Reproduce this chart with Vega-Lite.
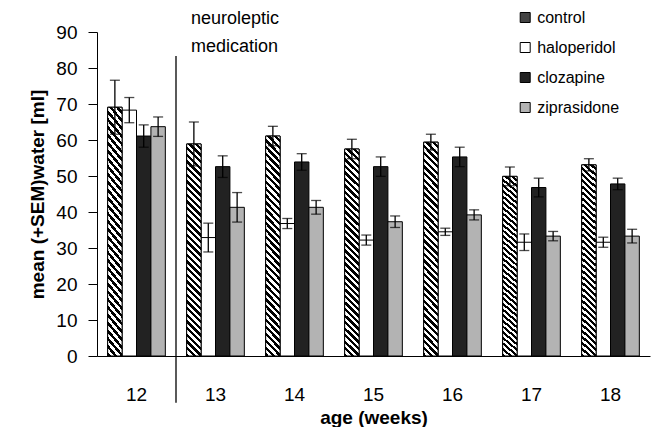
{
  "$schema": "https://vega.github.io/schema/vega-lite/v6.json",
  "width": 553,
  "height": 324,
  "autosize": {"type": "none"},
  "padding": {"left": 97, "top": 32, "right": 6, "bottom": 71},
  "background": "white",
  "config": {
    "view": {"stroke": null},
    "font": "Liberation Sans",
    "axis": {"domainColor": "#000", "domainWidth": 1, "tickColor": "#000", "labelColor": "#000", "titleColor": "#000", "grid": false, "labelFont": "Liberation Sans", "titleFont": "Liberation Sans", "labelOverlap": false},
    "axisY": {"tickCount": 10, "tickSize": 9, "labelFontSize": 19, "labelPadding": 11, "titleFontSize": 19, "titleFontWeight": "bold", "titlePadding": 8},
    "legend": {"symbolStrokeWidth": 1}
  },
  "data": {
    "values": [
      {"week": 12, "group": "control", "mean": 69.1, "lo": 61.6, "hi": 76.6},
      {"week": 12, "group": "haloperidol", "mean": 68.3, "lo": 64.8, "hi": 71.8},
      {"week": 12, "group": "clozapine", "mean": 61.1, "lo": 58.0, "hi": 64.2},
      {"week": 12, "group": "ziprasidone", "mean": 63.7, "lo": 61.0, "hi": 66.4},
      {"week": 13, "group": "control", "mean": 58.9, "lo": 52.8, "hi": 65.0},
      {"week": 13, "group": "haloperidol", "mean": 32.9, "lo": 28.9, "hi": 36.9},
      {"week": 13, "group": "clozapine", "mean": 52.6, "lo": 49.6, "hi": 55.6},
      {"week": 13, "group": "ziprasidone", "mean": 41.3, "lo": 37.2, "hi": 45.4},
      {"week": 14, "group": "control", "mean": 61.1, "lo": 58.4, "hi": 63.8},
      {"week": 14, "group": "haloperidol", "mean": 36.8, "lo": 35.4, "hi": 38.2},
      {"week": 14, "group": "clozapine", "mean": 53.9, "lo": 51.6, "hi": 56.2},
      {"week": 14, "group": "ziprasidone", "mean": 41.3, "lo": 39.4, "hi": 43.2},
      {"week": 15, "group": "control", "mean": 57.5, "lo": 54.8, "hi": 60.2},
      {"week": 15, "group": "haloperidol", "mean": 32.2, "lo": 30.8, "hi": 33.6},
      {"week": 15, "group": "clozapine", "mean": 52.6, "lo": 49.9, "hi": 55.3},
      {"week": 15, "group": "ziprasidone", "mean": 37.3, "lo": 35.7, "hi": 38.9},
      {"week": 16, "group": "control", "mean": 59.4, "lo": 57.2, "hi": 61.6},
      {"week": 16, "group": "haloperidol", "mean": 34.5, "lo": 33.5, "hi": 35.5},
      {"week": 16, "group": "clozapine", "mean": 55.3, "lo": 52.6, "hi": 58.0},
      {"week": 16, "group": "ziprasidone", "mean": 39.2, "lo": 37.8, "hi": 40.6},
      {"week": 17, "group": "control", "mean": 49.9, "lo": 47.3, "hi": 52.5},
      {"week": 17, "group": "haloperidol", "mean": 31.6, "lo": 29.3, "hi": 33.9},
      {"week": 17, "group": "clozapine", "mean": 46.8, "lo": 44.2, "hi": 49.4},
      {"week": 17, "group": "ziprasidone", "mean": 33.3, "lo": 32.0, "hi": 34.6},
      {"week": 18, "group": "control", "mean": 53.1, "lo": 51.4, "hi": 54.8},
      {"week": 18, "group": "haloperidol", "mean": 31.6, "lo": 30.2, "hi": 33.0},
      {"week": 18, "group": "clozapine", "mean": 47.8, "lo": 46.2, "hi": 49.4},
      {"week": 18, "group": "ziprasidone", "mean": 33.3, "lo": 31.4, "hi": 35.2}
    ]
  },
  "encoding": {
    "x": {
      "field": "week", "type": "ordinal",
      "scale": {"paddingInner": 0, "paddingOuter": 0},
      "axis": {"title": "age (weeks)", "labelAngle": 0, "ticks": false, "labelFontSize": 19, "labelPadding": 29, "titleFontSize": 19, "titleFontWeight": "bold", "titlePadding": 4}
    }
  },
  "layer": [
    {
      "mark": {"type": "bar", "strokeWidth": 1},
      "encoding": {
        "xOffset": {"field": "group", "type": "nominal", "scale": {"domain": ["control", "haloperidol", "clozapine", "ziprasidone"], "paddingInner": 0, "paddingOuter": 0.74}},
        "y": {
          "field": "mean", "type": "quantitative",
          "scale": {"domain": [0, 90], "nice": false},
          "axis": {"title": "mean (+SEM)water [ml]", "values": [0, 10, 20, 30, 40, 50, 60, 70, 80, 90]}
        },
        "fill": {
          "field": "group", "type": "nominal",
          "scale": {
            "domain": ["control", "haloperidol", "clozapine", "ziprasidone"],
            "range": ["#444444", "#ffffff", "#222222", "#b3b3b3"]
          },
          "legend": {"orient": "none", "legendX": 420.2, "legendY": -22.5, "title": null, "symbolType": "square", "symbolSize": 100, "symbolStrokeWidth": 1, "labelFontSize": 16, "labelFont": "Liberation Sans", "labelColor": "#000", "labelOffset": 4, "rowPadding": 14}
        },
        "stroke": {
          "field": "group", "type": "nominal",
          "scale": {
            "domain": ["control", "haloperidol", "clozapine", "ziprasidone"],
            "range": ["#000000", "#000000", "#000000", "#000000"]
          },
          "legend": {"orient": "none", "legendX": 420.2, "legendY": -22.5, "title": null, "symbolType": "square", "symbolSize": 100, "symbolStrokeWidth": 1, "labelFontSize": 16, "labelFont": "Liberation Sans", "labelColor": "#000", "labelOffset": 4, "rowPadding": 14}
        }
      }
    },
    {
      "transform": [{"filter": "datum.group === 'control'"}],
      "mark": {"type": "bar", "stroke": "#000", "strokeWidth": 1,
        "fill": {"gradient": "linear", "x1": 0, "y1": 1, "x2": 0.0731, "y2": -0.0638, "stops": [
          {"offset": 0, "color": "#000"}, {"offset": 0.0147, "color": "#000"}, {"offset": 0.0147, "color": "#fff"}, {"offset": 0.0294, "color": "#fff"},
          {"offset": 0.0294, "color": "#000"}, {"offset": 0.0441, "color": "#000"}, {"offset": 0.0441, "color": "#fff"}, {"offset": 0.0588, "color": "#fff"},
          {"offset": 0.0588, "color": "#000"}, {"offset": 0.0735, "color": "#000"}, {"offset": 0.0735, "color": "#fff"}, {"offset": 0.0882, "color": "#fff"},
          {"offset": 0.0882, "color": "#000"}, {"offset": 0.1029, "color": "#000"}, {"offset": 0.1029, "color": "#fff"}, {"offset": 0.1176, "color": "#fff"},
          {"offset": 0.1176, "color": "#000"}, {"offset": 0.1324, "color": "#000"}, {"offset": 0.1324, "color": "#fff"}, {"offset": 0.1471, "color": "#fff"},
          {"offset": 0.1471, "color": "#000"}, {"offset": 0.1618, "color": "#000"}, {"offset": 0.1618, "color": "#fff"}, {"offset": 0.1765, "color": "#fff"},
          {"offset": 0.1765, "color": "#000"}, {"offset": 0.1912, "color": "#000"}, {"offset": 0.1912, "color": "#fff"}, {"offset": 0.2059, "color": "#fff"},
          {"offset": 0.2059, "color": "#000"}, {"offset": 0.2206, "color": "#000"}, {"offset": 0.2206, "color": "#fff"}, {"offset": 0.2353, "color": "#fff"},
          {"offset": 0.2353, "color": "#000"}, {"offset": 0.25, "color": "#000"}, {"offset": 0.25, "color": "#fff"}, {"offset": 0.2647, "color": "#fff"},
          {"offset": 0.2647, "color": "#000"}, {"offset": 0.2794, "color": "#000"}, {"offset": 0.2794, "color": "#fff"}, {"offset": 0.2941, "color": "#fff"},
          {"offset": 0.2941, "color": "#000"}, {"offset": 0.3088, "color": "#000"}, {"offset": 0.3088, "color": "#fff"}, {"offset": 0.3235, "color": "#fff"},
          {"offset": 0.3235, "color": "#000"}, {"offset": 0.3382, "color": "#000"}, {"offset": 0.3382, "color": "#fff"}, {"offset": 0.3529, "color": "#fff"},
          {"offset": 0.3529, "color": "#000"}, {"offset": 0.3676, "color": "#000"}, {"offset": 0.3676, "color": "#fff"}, {"offset": 0.3824, "color": "#fff"},
          {"offset": 0.3824, "color": "#000"}, {"offset": 0.3971, "color": "#000"}, {"offset": 0.3971, "color": "#fff"}, {"offset": 0.4118, "color": "#fff"},
          {"offset": 0.4118, "color": "#000"}, {"offset": 0.4265, "color": "#000"}, {"offset": 0.4265, "color": "#fff"}, {"offset": 0.4412, "color": "#fff"},
          {"offset": 0.4412, "color": "#000"}, {"offset": 0.4559, "color": "#000"}, {"offset": 0.4559, "color": "#fff"}, {"offset": 0.4706, "color": "#fff"},
          {"offset": 0.4706, "color": "#000"}, {"offset": 0.4853, "color": "#000"}, {"offset": 0.4853, "color": "#fff"}, {"offset": 0.5, "color": "#fff"},
          {"offset": 0.5, "color": "#000"}, {"offset": 0.5147, "color": "#000"}, {"offset": 0.5147, "color": "#fff"}, {"offset": 0.5294, "color": "#fff"},
          {"offset": 0.5294, "color": "#000"}, {"offset": 0.5441, "color": "#000"}, {"offset": 0.5441, "color": "#fff"}, {"offset": 0.5588, "color": "#fff"},
          {"offset": 0.5588, "color": "#000"}, {"offset": 0.5735, "color": "#000"}, {"offset": 0.5735, "color": "#fff"}, {"offset": 0.5882, "color": "#fff"},
          {"offset": 0.5882, "color": "#000"}, {"offset": 0.6029, "color": "#000"}, {"offset": 0.6029, "color": "#fff"}, {"offset": 0.6176, "color": "#fff"},
          {"offset": 0.6176, "color": "#000"}, {"offset": 0.6324, "color": "#000"}, {"offset": 0.6324, "color": "#fff"}, {"offset": 0.6471, "color": "#fff"},
          {"offset": 0.6471, "color": "#000"}, {"offset": 0.6618, "color": "#000"}, {"offset": 0.6618, "color": "#fff"}, {"offset": 0.6765, "color": "#fff"},
          {"offset": 0.6765, "color": "#000"}, {"offset": 0.6912, "color": "#000"}, {"offset": 0.6912, "color": "#fff"}, {"offset": 0.7059, "color": "#fff"},
          {"offset": 0.7059, "color": "#000"}, {"offset": 0.7206, "color": "#000"}, {"offset": 0.7206, "color": "#fff"}, {"offset": 0.7353, "color": "#fff"},
          {"offset": 0.7353, "color": "#000"}, {"offset": 0.75, "color": "#000"}, {"offset": 0.75, "color": "#fff"}, {"offset": 0.7647, "color": "#fff"},
          {"offset": 0.7647, "color": "#000"}, {"offset": 0.7794, "color": "#000"}, {"offset": 0.7794, "color": "#fff"}, {"offset": 0.7941, "color": "#fff"},
          {"offset": 0.7941, "color": "#000"}, {"offset": 0.8088, "color": "#000"}, {"offset": 0.8088, "color": "#fff"}, {"offset": 0.8235, "color": "#fff"},
          {"offset": 0.8235, "color": "#000"}, {"offset": 0.8382, "color": "#000"}, {"offset": 0.8382, "color": "#fff"}, {"offset": 0.8529, "color": "#fff"},
          {"offset": 0.8529, "color": "#000"}, {"offset": 0.8676, "color": "#000"}, {"offset": 0.8676, "color": "#fff"}, {"offset": 0.8824, "color": "#fff"},
          {"offset": 0.8824, "color": "#000"}, {"offset": 0.8971, "color": "#000"}, {"offset": 0.8971, "color": "#fff"}, {"offset": 0.9118, "color": "#fff"},
          {"offset": 0.9118, "color": "#000"}, {"offset": 0.9265, "color": "#000"}, {"offset": 0.9265, "color": "#fff"}, {"offset": 0.9412, "color": "#fff"},
          {"offset": 0.9412, "color": "#000"}, {"offset": 0.9559, "color": "#000"}, {"offset": 0.9559, "color": "#fff"}, {"offset": 0.9706, "color": "#fff"},
          {"offset": 0.9706, "color": "#000"}, {"offset": 0.9853, "color": "#000"}, {"offset": 0.9853, "color": "#fff"}, {"offset": 1, "color": "#fff"}
        ]}
      },
      "encoding": {
        "xOffset": {"field": "group", "type": "nominal"},
        "y": {"field": "mean", "type": "quantitative"}
      }
    },
    {
      "mark": {"type": "rule", "color": "#000", "strokeWidth": 1.3},
      "encoding": {
        "xOffset": {"field": "group", "type": "nominal"},
        "y": {"field": "lo", "type": "quantitative"},
        "y2": {"field": "hi"}
      }
    },
    {
      "mark": {"type": "tick", "color": "#000", "size": 10, "thickness": 1.3},
      "encoding": {
        "xOffset": {"field": "group", "type": "nominal"},
        "y": {"field": "lo", "type": "quantitative"}
      }
    },
    {
      "mark": {"type": "tick", "color": "#000", "size": 10, "thickness": 1.3},
      "encoding": {
        "xOffset": {"field": "group", "type": "nominal"},
        "y": {"field": "hi", "type": "quantitative"}
      }
    },
    {
      "data": {"values": [{"week": 13}]},
      "mark": {"type": "rule", "color": "#000", "strokeWidth": 1.3},
      "encoding": {
        "x": {"field": "week", "type": "ordinal", "bandPosition": 0},
        "y": {"datum": 83.3},
        "y2": {"datum": -13}
      }
    },
    {
      "data": {"values": [{"week": 13}]},
      "mark": {"type": "text", "text": ["neuroleptic", "medication"], "align": "left", "baseline": "alphabetic", "dx": 15, "fontSize": 18, "lineHeight": 28, "font": "Liberation Sans", "color": "#000"},
      "encoding": {
        "x": {"field": "week", "type": "ordinal", "bandPosition": 0},
        "y": {"datum": 92.1}
      }
    }
  ]
}
